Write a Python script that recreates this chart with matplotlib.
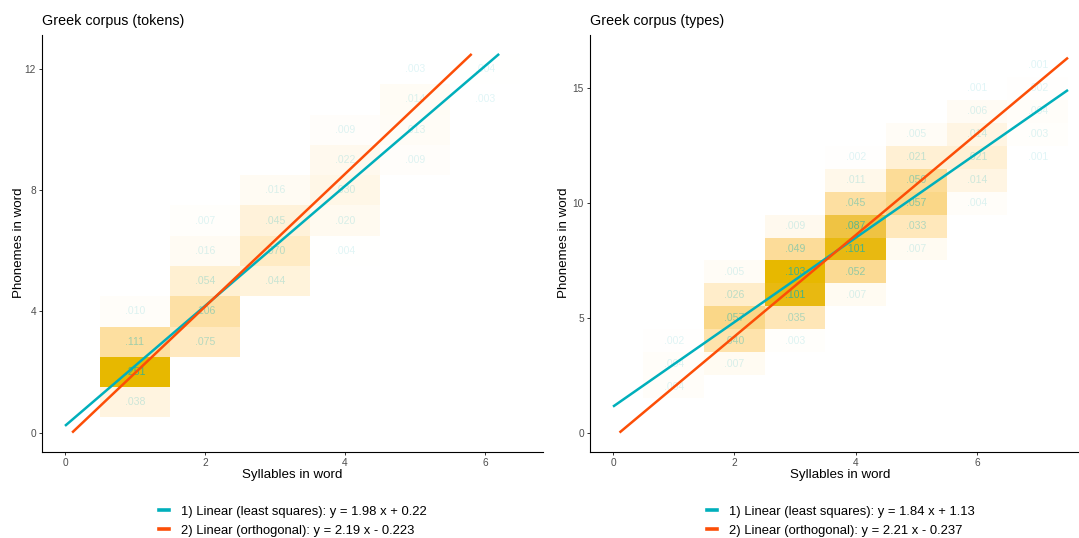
import numpy as np
import matplotlib
matplotlib.use("Agg")
import matplotlib.pyplot as plt
from matplotlib.lines import Line2D

plt.rcParams["font.family"] = ["Liberation Sans", "DejaVu Sans"]

# ---- Greek corpus, token frequencies: (syllables, phonemes) -> proportion
tok_syll = [1, 1, 1, 1, 2, 2, 2, 2, 2, 3, 3, 3, 3, 4, 4, 4, 4, 4, 5, 5, 5, 5, 6, 6]
tok_phon = [1, 2, 3, 4, 3, 4, 5, 6, 7, 5, 6, 7, 8, 6, 7, 8, 9, 10, 9, 10, 11, 12, 11, 12]
tok_prop = [0.038, 0.251, 0.111, 0.010, 0.075, 0.106, 0.054, 0.016, 0.007,
            0.044, 0.070, 0.045, 0.016, 0.004, 0.020, 0.030, 0.022, 0.009,
            0.009, 0.013, 0.014, 0.003, 0.003, 0.004]
tok_ls = (1.98, 0.22)
tok_orth = (2.19, -0.223)

# ---- Greek corpus, type frequencies
type_syll = [1, 1, 1,
             2, 2, 2, 2, 2,
             3, 3, 3, 3, 3, 3,
             4, 4, 4, 4, 4, 4, 4,
             5, 5, 5, 5, 5, 5,
             6, 6, 6, 6, 6, 6,
             7, 7, 7, 7, 7]
type_phon = [2, 3, 4,
             3, 4, 5, 6, 7,
             4, 5, 6, 7, 8, 9,
             6, 7, 8, 9, 10, 11, 12,
             8, 9, 10, 11, 12, 13,
             10, 11, 12, 13, 14, 15,
             12, 13, 14, 15, 16]
type_prop = [0.004, 0.004, 0.002,
             0.007, 0.040, 0.057, 0.026, 0.005,
             0.003, 0.035, 0.101, 0.103, 0.049, 0.009,
             0.007, 0.052, 0.101, 0.087, 0.045, 0.011, 0.002,
             0.007, 0.033, 0.057, 0.050, 0.021, 0.005,
             0.004, 0.014, 0.021, 0.014, 0.006, 0.001,
             0.001, 0.003, 0.004, 0.002, 0.001]
type_ls = (1.84, 1.13)
type_orth = (2.21, -0.237)

LS_COLOR = "#00AFBB"
ORTH_COLOR = "#FC4E07"
FILL_HIGH = "#E7B800"


# ---- colour gradient white -> gold, interpolated in CIE Lab
def _srgb_to_lab(rgb):
    c = np.asarray(rgb, float)
    lin = np.where(c <= 0.04045, c / 12.92, ((c + 0.055) / 1.055) ** 2.4)
    M = np.array([[0.4124, 0.3576, 0.1805],
                  [0.2126, 0.7152, 0.0722],
                  [0.0193, 0.1192, 0.9505]])
    xyz = M @ lin / np.array([0.95047, 1.0, 1.08883])
    f = np.where(xyz > 0.008856, np.cbrt(xyz), 7.787 * xyz + 16 / 116)
    return np.array([116 * f[1] - 16, 500 * (f[0] - f[1]), 200 * (f[1] - f[2])])


def _lab_to_srgb(lab):
    L, a, b = lab
    fy = (L + 16) / 116
    fx = fy + a / 500
    fz = fy - b / 200
    f = np.array([fx, fy, fz])
    xyz = np.where(f ** 3 > 0.008856, f ** 3, (f - 16 / 116) / 7.787)
    xyz = xyz * np.array([0.95047, 1.0, 1.08883])
    Minv = np.array([[3.2406, -1.5372, -0.4986],
                     [-0.9689, 1.8758, 0.0415],
                     [0.0557, -0.2040, 1.0570]])
    lin = np.clip(Minv @ xyz, 0, 1)
    c = np.where(lin <= 0.0031308, 12.92 * lin, 1.055 * lin ** (1 / 2.4) - 0.055)
    return np.clip(c, 0, 1)


LAB_LOW = _srgb_to_lab([1, 1, 1])
LAB_HIGH = _srgb_to_lab(matplotlib.colors.to_rgb(FILL_HIGH))


def fill_color(t):
    return _lab_to_srgb(LAB_LOW + (LAB_HIGH - LAB_LOW) * t)


def fit_segment(a, b, xhi, yhi):
    x0 = max(0.0, -b / a)
    x1 = min(xhi, (yhi - b) / a)
    return [x0, x1], [a * x0 + b, a * x1 + b]


def fmt_eq(a, b):
    sign = "+" if b >= 0 else "-"
    return f"y = {a:g} x {sign} {abs(b):g}"


def draw_panel(ax, syll, phon, prop, ls, orth, title, yticks, ylab_x):
    syll = np.asarray(syll, float)
    phon = np.asarray(phon, float)
    prop = np.asarray(prop, float)
    t = (prop - prop.min()) / (prop.max() - prop.min())

    colors = [fill_color(v) for v in t]
    ax.bar(syll, 1.0, width=1.0, bottom=phon - 0.5, color=colors,
           linewidth=0, zorder=1)
    for x, y, v, tv in zip(syll, phon, prop, t):
        ax.text(x, y, f"{v:.3f}".lstrip("0"), ha="center", va="center",
                fontsize=7.6, color=LS_COLOR, alpha=0.12 + 0.58 * tv, zorder=2)

    xhi = syll.max() + 0.5
    yhi = phon.max() + 0.5
    xs, ys = fit_segment(*ls, xhi, yhi)
    ax.plot(xs, ys, color=LS_COLOR, lw=1.8, solid_capstyle="butt", zorder=3)
    xs, ys = fit_segment(*orth, xhi, yhi)
    ax.plot(xs, ys, color=ORTH_COLOR, lw=1.8, solid_capstyle="butt", zorder=3)

    ax.set_xlim(-0.05 * xhi, 1.05 * xhi)
    ax.set_ylim(-0.05 * yhi, 1.05 * yhi)
    ax.set_xticks([0, 2, 4, 6])
    ax.set_yticks(yticks)
    for side in ("top", "right"):
        ax.spines[side].set_visible(False)
    for side in ("left", "bottom"):
        ax.spines[side].set_linewidth(0.8)
        ax.spines[side].set_color("black")
    ax.tick_params(length=2.5, width=0.7, color="#333333", labelsize=7.3,
                   labelcolor="#4D4D4D", pad=2)
    ax.set_xlabel("Syllables in word", fontsize=9.6, labelpad=1)
    ax.set_ylabel("Phonemes in word", fontsize=9.6)
    ax.yaxis.set_label_coords(ylab_x, 0.5)
    ax.set_title(title, loc="left", fontsize=10.3, pad=7)

    handles = [Line2D([], [], color=LS_COLOR, lw=2.6),
               Line2D([], [], color=ORTH_COLOR, lw=2.6)]
    labels = [f"1) Linear (least squares): {fmt_eq(*ls)}",
              f"2) Linear (orthogonal): {fmt_eq(*orth)}"]
    ax.legend(handles, labels, loc="upper center", bbox_to_anchor=(0.5, -0.118),
              frameon=False, fontsize=9.4, handlelength=0.8, handletextpad=0.9,
              labelspacing=0.52, borderaxespad=0)


W, H = 1079, 538
fig = plt.figure(figsize=(W / 100, H / 100), dpi=100)
ax1 = fig.add_axes([42.25 / W, (H - 451.5) / H, 500.5 / W, 416.5 / H])
ax2 = fig.add_axes([590.25 / W, (H - 451.5) / H, 500.5 / W, 416.5 / H])

draw_panel(ax1, tok_syll, tok_phon, tok_prop, tok_ls, tok_orth,
           "Greek corpus (tokens)", [0, 4, 8, 12], -0.034)
draw_panel(ax2, type_syll, type_phon, type_prop, type_ls, type_orth,
           "Greek corpus (types)", [0, 5, 10, 15], -0.041)

fig.savefig("out.png", dpi=100)
